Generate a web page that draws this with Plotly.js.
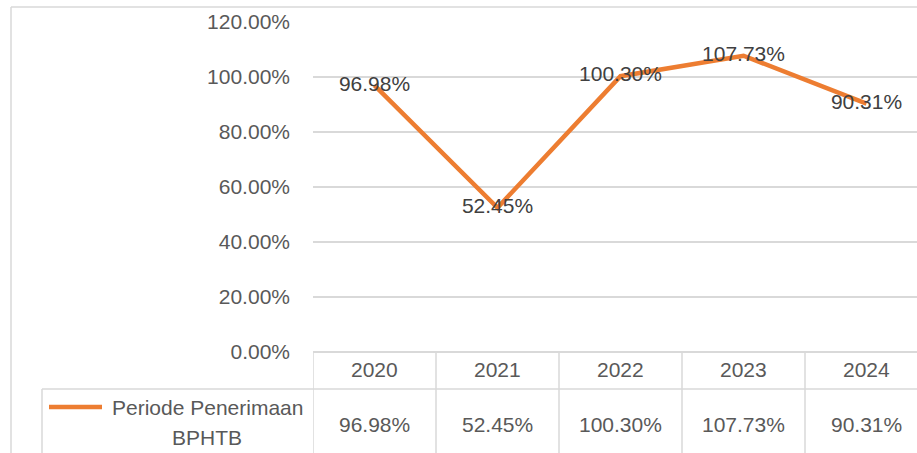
<!DOCTYPE html>
<html><head><meta charset="utf-8">
<script src="https://cdn.plot.ly/plotly-3.0.1.min.js"></script>
<style>html,body{margin:0;padding:0;background:#fff}#c{width:917px;height:453px}</style>
</head><body><div id="c"></div>
<script>
const categories = ['2020', '2021', '2022', '2023', '2024'];
const values = [0.9698, 0.5245, 1.0030, 1.0773, 0.9031];
const seriesName = ['Periode Penerimaan', 'BPHTB'];
const yTicks = [0, 0.2, 0.4, 0.6, 0.8, 1.0, 1.2];

const FONT = 'Liberation Sans, Arial, sans-serif';
const FS = 21;
const GRID = '#d9d9d9';
const ORANGE = '#ED7D31';

// pixel geometry helpers (plot area: x 313..917, y 22..352)
const L = 313, T = 22, W = 917 - 313, H = 330;
const px = x => (x - L) / W;
const py = y => (T + H - y) / H;

const trace = {
  x: categories, y: values, type: 'scatter', mode: 'lines+text',
  line: {color: ORANGE, width: 4.5},
  text: values.map(v => (v * 100).toFixed(2) + '%'),
  textposition: 'middle center',
  textfont: {family: FONT, size: FS, color: '#404040'},
  cliponaxis: false, hoverinfo: 'skip', showlegend: false
};

const shapes = [];
const annotations = [];
const lineS = (xref, x0, x1, yref, y0, y1, color, w) => shapes.push({type: 'line', xref, yref, x0, x1, y0, y1, line: {color: color || GRID, width: w || 1.5}, layer: 'above'});

// outer chart border (left and top)
lineS('paper', px(11), px(11), 'paper', py(7), py(460));
lineS('paper', px(11), 1.1, 'paper', py(7), py(7));
// table: vertical dividers at category boundaries
categories.forEach((c, i) => lineS('x', i - 0.5, i - 0.5, 'paper', 0, py(460)));
// table row divider and legend cell left edge
lineS('paper', px(42), 1.1, 'paper', py(389), py(389));
lineS('paper', px(42), px(42), 'paper', py(389), py(460));
// legend key
shapes.push({type: 'line', xref: 'paper', yref: 'paper', x0: px(49), x1: px(102), y0: py(407), y1: py(407), line: {color: ORANGE, width: 4.5}, layer: 'above'});

categories.forEach((c, i) => {
  annotations.push({xref: 'x', yref: 'paper', x: i, y: py(370), text: c, showarrow: false,
    font: {family: FONT, size: FS, color: '#595959'}, xanchor: 'center', yanchor: 'middle'});
  annotations.push({xref: 'x', yref: 'paper', x: i, y: py(424), text: (values[i] * 100).toFixed(2) + '%', showarrow: false,
    font: {family: FONT, size: FS, color: '#595959'}, xanchor: 'center', yanchor: 'middle'});
});
annotations.push({xref: 'paper', yref: 'paper', x: px(207), y: py(407), text: seriesName[0], showarrow: false,
  font: {family: FONT, size: FS, color: '#595959'}, xanchor: 'center', yanchor: 'middle'});
annotations.push({xref: 'paper', yref: 'paper', x: px(207), y: py(437), text: seriesName[1], showarrow: false,
  font: {family: FONT, size: FS, color: '#595959'}, xanchor: 'center', yanchor: 'middle'});

const layout = {
  width: 917, height: 453,
  margin: {l: L, r: 0, t: T, b: 453 - T - H, pad: 0},
  paper_bgcolor: '#fff', plot_bgcolor: '#fff',
  showlegend: false,
  xaxis: {type: 'category', range: [-0.5, -0.5 + W / 123], showticklabels: false, showgrid: false,
    zeroline: false, showline: false, ticks: '', fixedrange: true},
  yaxis: {range: [0, 1.2], tickvals: yTicks, tickformat: '.2%', showgrid: true, gridcolor: GRID, gridwidth: 1.5,
    zeroline: true, zerolinecolor: GRID, zerolinewidth: 1.5, showline: false, ticks: '',
    ticklabelstandoff: 22, tickfont: {family: FONT, size: FS, color: '#595959'}, fixedrange: true},
  shapes, annotations
};

Plotly.newPlot('c', [trace], layout, {displayModeBar: false, staticPlot: true});
</script></body></html>
